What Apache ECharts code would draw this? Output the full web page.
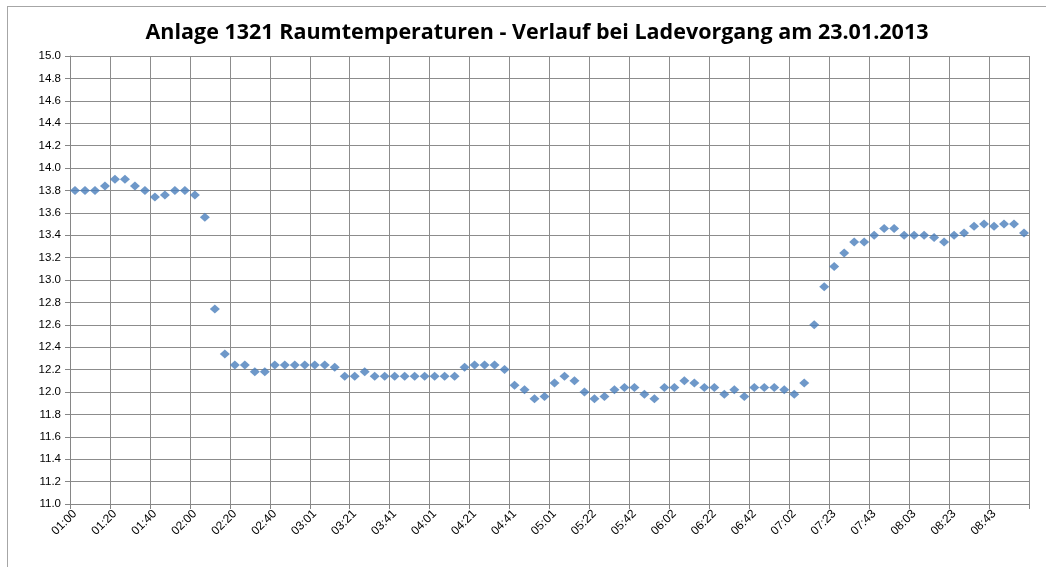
<!DOCTYPE html>
<html>
<head>
<meta charset="utf-8">
<script src="https://cdn.jsdelivr.net/npm/echarts@6/dist/echarts.min.js"></script>
<style>
  html, body { margin: 0; padding: 0; background: #fff; }
  #chart { width: 1046px; height: 567px; position: relative; }
  .frame { position: absolute; left: 7px; top: 6px; right: 0; bottom: 0;
           border-left: 1px solid #a6a6a6; border-top: 1px solid #a6a6a6; pointer-events: none; }
</style>
</head>
<body>
<div id="chart"></div>
<div class="frame"></div>
<script>
// Uhrzeit der Messpunkte (alle ~5 min)
var times = [
  "01:00", "01:05", "01:10", "01:15", "01:20", "01:25", "01:30", "01:35",
  "01:40", "01:45", "01:50", "01:55", "02:00", "02:05", "02:10", "02:15",
  "02:20", "02:25", "02:30", "02:35", "02:40", "02:45", "02:50", "02:55",
  "03:01", "03:06", "03:11", "03:16", "03:21", "03:26", "03:31", "03:36",
  "03:41", "03:46", "03:51", "03:56", "04:01", "04:06", "04:11", "04:16",
  "04:21", "04:26", "04:31", "04:36", "04:41", "04:46", "04:51", "04:56",
  "05:01", "05:06", "05:11", "05:16", "05:22", "05:27", "05:32", "05:37",
  "05:42", "05:47", "05:52", "05:57", "06:02", "06:07", "06:12", "06:17",
  "06:22", "06:27", "06:32", "06:37", "06:42", "06:47", "06:52", "06:57",
  "07:02", "07:07", "07:12", "07:17", "07:23", "07:28", "07:33", "07:38",
  "07:43", "07:48", "07:53", "07:58", "08:03", "08:08", "08:13", "08:18",
  "08:23", "08:28", "08:33", "08:38", "08:43", "08:48", "08:53", "08:58"
];

// Raumtemperatur in °C
var temps = [
  13.80, 13.80, 13.80, 13.84, 13.90, 13.90, 13.84, 13.80,
  13.74, 13.76, 13.80, 13.80, 13.76, 13.56, 12.74, 12.34,
  12.24, 12.24, 12.18, 12.18, 12.24, 12.24, 12.24, 12.24,
  12.24, 12.24, 12.22, 12.14, 12.14, 12.18, 12.14, 12.14,
  12.14, 12.14, 12.14, 12.14, 12.14, 12.14, 12.14, 12.22,
  12.24, 12.24, 12.24, 12.20, 12.06, 12.02, 11.94, 11.96,
  12.08, 12.14, 12.10, 12.00, 11.94, 11.96, 12.02, 12.04,
  12.04, 11.98, 11.94, 12.04, 12.04, 12.10, 12.08, 12.04,
  12.04, 11.98, 12.02, 11.96, 12.04, 12.04, 12.04, 12.02,
  11.98, 12.08, 12.60, 12.94, 13.12, 13.24, 13.34, 13.34,
  13.40, 13.46, 13.46, 13.40, 13.40, 13.40, 13.38, 13.34,
  13.40, 13.42, 13.48, 13.50, 13.48, 13.50, 13.50, 13.42
];

var yMin = 11.0;
var yMax = 15.0;
var yStep = 0.2;

var myChart = echarts.init(document.getElementById("chart"));
var option = {
  animation: false,
  title: {
    text: "Anlage 1321 Raumtemperaturen - Verlauf bei Ladevorgang am 23.01.2013",
    left: 532,
    textAlign: "center",
    top: 17,
    textStyle: {
      fontFamily: "Open Sans",
      fontSize: 21.5,
      fontWeight: "bold",
      color: "#000"
    }
  },
  grid: {
    left: 70,
    right: 17,
    top: 56,
    bottom: 63
  },
  xAxis: {
    type: "category",
    data: times,
    boundaryGap: true,
    axisLine: { lineStyle: { color: "#868686", width: 1 } },
    axisTick: { show: true, interval: 3, length: 5, lineStyle: { color: "#868686" } },
    axisLabel: {
      interval: 3,
      rotate: 45,
      margin: 8,
      fontFamily: "Liberation Sans",
      fontSize: 12,
      color: "#000"
    },
    splitLine: { show: true, interval: 3, lineStyle: { color: "#8c8c8c", width: 1 } }
  },
  yAxis: {
    type: "value",
    min: yMin,
    max: yMax,
    interval: yStep,
    axisLine: { show: true, lineStyle: { color: "#868686", width: 1 } },
    axisTick: { show: true, length: 5, lineStyle: { color: "#868686" } },
    axisLabel: {
      margin: 9,
      fontFamily: "Liberation Sans",
      fontSize: 11.5,
      color: "#000",
      formatter: function (v) { return v.toFixed(1); }
    },
    splitLine: { show: true, lineStyle: { color: "#8c8c8c", width: 1 } }
  },
  series: [
    {
      type: "scatter",
      data: temps,
      symbol: "diamond",
      symbolSize: [10, 9],
      itemStyle: {
        color: "#4a7ebb"
      }
    }
  ]
};
myChart.setOption(option);
</script>
</body>
</html>
